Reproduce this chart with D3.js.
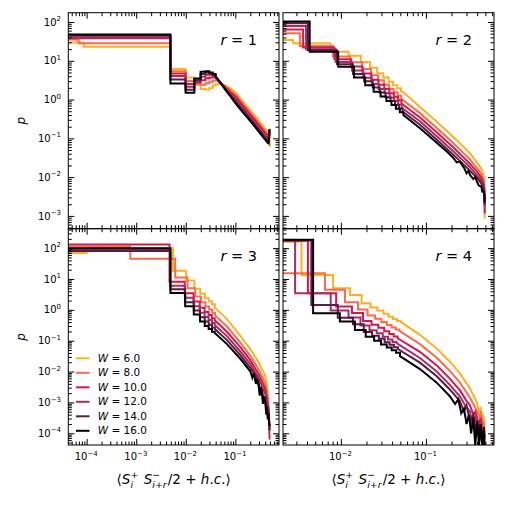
<!DOCTYPE html>
<html>
<head>
<meta charset="utf-8">
<script src="https://cdn.jsdelivr.net/npm/d3@7"></script>
<style>
body { margin: 0; background: #fff; }
svg { font-family: 'DejaVu Sans', sans-serif; }
svg text { white-space: pre; fill: #000; }
</style>
</head>
<body>
<svg id="chart" width="507" height="507"></svg>
<script>
var wValues = [6.0, 8.0, 10.0, 12.0, 14.0, 16.0];
var wColors = ['#ffb01f', '#fb6a4a', '#d7174c', '#a62f60', '#5c1b4a', '#000000'];
var rValues = [1, 2, 3, 4];

// each series: step part [bin edge, log10 p] then tail [x, log10 p]
var r1Steps = [
  [[1e-5,1.47],[8.7e-5,1.36],[0.0049,0.785],[0.0099,0.57],[0.0149,0.38],[0.0199,0.27],[0.0249,0.26],[0.0299,0.30],[0.0349,0.36]],
  [[1e-5,1.55],[6.9e-5,1.45],[0.0049,0.73],[0.0099,0.48],[0.0149,0.40],[0.0199,0.38],[0.0249,0.42],[0.0299,0.46],[0.0349,0.49]],
  [[1e-5,1.58],[0.0049,0.67],[0.0099,0.40],[0.0149,0.44],[0.0199,0.50],[0.0249,0.55],[0.0299,0.57],[0.0349,0.57]],
  [[1e-5,1.61],[0.0049,0.61],[0.0099,0.33],[0.0149,0.47],[0.0199,0.59],[0.0249,0.64],[0.0299,0.64],[0.0349,0.61]],
  [[1e-5,1.65],[0.0049,0.52],[0.0099,0.25],[0.0149,0.50],[0.0199,0.66],[0.0249,0.70],[0.0299,0.68],[0.0349,0.64]],
  [[1e-5,1.68],[0.0049,0.416],[0.0099,0.173],[0.0149,0.545],[0.0199,0.716],[0.0249,0.73],[0.0299,0.70],[0.0349,0.66]]
];
var r1Tails = [
  [[0.0399,0.40],[0.05,0.40],[0.0631,0.36],[0.0794,0.29],[0.1,0.19],[0.126,0.03],[0.178,-0.20],[0.251,-0.43],[0.316,-0.59],[0.398,-0.75],[0.437,-0.82],[0.468,-0.85],[0.484,-0.90],[0.495,-1.22]],
  [[0.0399,0.50],[0.05,0.44],[0.0631,0.34],[0.0794,0.24],[0.1,0.13],[0.126,-0.03],[0.178,-0.26],[0.251,-0.49],[0.316,-0.65],[0.398,-0.81],[0.437,-0.88],[0.468,-0.91],[0.484,-0.82],[0.495,-1.0]],
  [[0.0399,0.56],[0.05,0.44],[0.0631,0.31],[0.0794,0.19],[0.1,0.08],[0.126,-0.08],[0.178,-0.31],[0.251,-0.54],[0.316,-0.70],[0.398,-0.86],[0.437,-0.93],[0.468,-0.96],[0.484,-0.80],[0.495,-0.95]],
  [[0.0399,0.59],[0.05,0.44],[0.0631,0.29],[0.0794,0.15],[0.1,0.02],[0.126,-0.14],[0.178,-0.37],[0.251,-0.60],[0.316,-0.76],[0.398,-0.92],[0.437,-0.99],[0.468,-1.02],[0.484,-0.79],[0.495,-0.90]],
  [[0.0399,0.60],[0.05,0.43],[0.0631,0.27],[0.0794,0.11],[0.1,-0.04],[0.126,-0.20],[0.178,-0.43],[0.251,-0.66],[0.316,-0.82],[0.398,-0.98],[0.437,-1.05],[0.468,-1.08],[0.484,-0.78],[0.495,-0.85]],
  [[0.0399,0.60],[0.05,0.43],[0.0631,0.25],[0.0794,0.08],[0.1,-0.09],[0.126,-0.25],[0.178,-0.48],[0.251,-0.71],[0.316,-0.87],[0.398,-1.03],[0.437,-1.10],[0.468,-1.13],[0.484,-0.76],[0.495,-0.80]]
];

var r2Steps = [
  [[1e-5,1.535],[0.00275,1.45],[0.00755,1.23],[0.01235,1.13],[0.01715,0.97],[0.02195,0.82],[0.02675,0.68],[0.03155,0.57],[0.03635,0.46],[0.04115,0.37],[0.04595,0.29]],
  [[1e-5,1.71],[0.0033,1.38],[0.0081,1.11],[0.0129,0.96],[0.0177,0.79],[0.0225,0.63],[0.0273,0.50],[0.0321,0.39],[0.0369,0.28],[0.0417,0.19],[0.0465,0.10]],
  [[1e-5,1.81],[0.0036,1.34],[0.0084,1.04],[0.0132,0.85],[0.018,0.67],[0.0228,0.51],[0.0276,0.38],[0.0324,0.27],[0.0372,0.16],[0.042,0.07],[0.0468,-0.02]],
  [[1e-5,1.90],[0.0039,1.30],[0.0087,0.97],[0.0135,0.75],[0.0183,0.56],[0.0231,0.40],[0.0279,0.27],[0.0327,0.16],[0.0375,0.05],[0.0423,-0.04],[0.0471,-0.13]],
  [[1e-5,1.97],[0.0041,1.27],[0.0090,0.91],[0.0139,0.66],[0.0188,0.47],[0.0237,0.31],[0.0286,0.18],[0.0335,0.06],[0.0384,-0.04],[0.0433,-0.14],[0.0482,-0.23]],
  [[1e-5,2.01],[0.0043,1.23],[0.0093,0.845],[0.0143,0.57],[0.0193,0.37],[0.0243,0.20],[0.0293,0.08],[0.0343,-0.04],[0.0393,-0.14],[0.0443,-0.24],[0.0493,-0.33]]
];
var r2Tails = [
  [[0.05075,0.22],[0.0537,0.20],[0.0851,-0.19],[0.135,-0.58],[0.209,-0.96],[0.282,-1.24],[0.331,-1.39],[0.398,-1.62],[0.447,-1.78],[0.479,-1.98],[0.488,-2.3],[0.49,-3.07]],
  [[0.0513,0.02],[0.0851,-0.35],[0.135,-0.74],[0.209,-1.12],[0.282,-1.40],[0.331,-1.55],[0.398,-1.77],[0.447,-1.92],[0.479,-2.10],[0.488,-2.36],[0.49,-2.6]],
  [[0.0516,-0.10],[0.0851,-0.46],[0.135,-0.85],[0.209,-1.23],[0.282,-1.51],[0.331,-1.66],[0.398,-1.86],[0.447,-2.01],[0.479,-2.18],[0.488,-2.40],[0.49,-2.75]],
  [[0.0519,-0.21],[0.0851,-0.56],[0.135,-0.95],[0.209,-1.33],[0.282,-1.60],[0.331,-1.75],[0.398,-1.95],[0.447,-2.09],[0.479,-2.25],[0.488,-2.44],[0.491,-2.94]],
  [[0.0531,-0.31],[0.0851,-0.65],[0.135,-1.04],[0.209,-1.42],[0.282,-1.69],[0.331,-1.84],[0.398,-2.02],[0.447,-2.16],[0.479,-2.32],[0.488,-2.47],[0.49,-2.7]],
  [[0.0543,-0.40],[0.0851,-0.74],[0.135,-1.12],[0.18,-1.36],[0.209,-1.50],[0.23,-1.62],[0.25,-1.60],[0.282,-1.77],[0.30,-1.90],[0.315,-1.84],[0.331,-1.95],[0.36,-2.05],[0.38,-2.0],[0.398,-2.12],[0.42,-2.22],[0.447,-2.24],[0.46,-2.38],[0.479,-2.38],[0.488,-2.5],[0.49,-2.65]]
];

var r3Steps = [
  [[1e-5,1.84],[1.0e-4,2.0],[0.0055,1.27],[0.0102,0.95],[0.0149,0.68],[0.0196,0.52],[0.0243,0.38],[0.029,0.28],[0.0337,0.18]],
  [[1e-5,2.05],[7.6e-4,1.66],[0.0061,1.05],[0.0108,0.70],[0.0155,0.43],[0.0202,0.25],[0.0249,0.11],[0.0296,0.01],[0.0343,-0.09]],
  [[1e-5,2.12],[0.0047,0.91],[0.0095,0.54],[0.0143,0.27],[0.0191,0.07],[0.0239,-0.07],[0.0287,-0.17],[0.0335,-0.27]],
  [[1e-5,1.95],[0.0048,0.78],[0.0096,0.39],[0.0144,0.12],[0.0192,-0.09],[0.024,-0.23],[0.0288,-0.33],[0.0336,-0.43]],
  [[1e-5,1.91],[0.0049,0.67],[0.0097,0.25],[0.0145,-0.02],[0.0193,-0.24],[0.0241,-0.38],[0.0289,-0.48],[0.0337,-0.57]],
  [[1e-5,2.0],[0.0049,0.55],[0.0097,0.12],[0.0145,-0.15],[0.0193,-0.38],[0.0241,-0.52],[0.0289,-0.62],[0.0337,-0.71]]
];
var r3Tails = [
  [[0.0384,0.07],[0.0676,-0.30],[0.126,-0.84],[0.2,-1.27],[0.295,-1.70],[0.344,-1.92],[0.401,-2.14],[0.434,-2.46],[0.468,-3.11],[0.49,-3.74]],
  [[0.039,-0.18],[0.0676,-0.54],[0.126,-1.06],[0.2,-1.49],[0.295,-1.93],[0.344,-2.16],[0.401,-2.40],[0.434,-2.69],[0.468,-3.21],[0.49,-3.8]],
  [[0.0383,-0.34],[0.0676,-0.71],[0.126,-1.21],[0.2,-1.63],[0.295,-2.09],[0.344,-2.32],[0.401,-2.57],[0.434,-2.84],[0.468,-3.27],[0.49,-3.9]],
  [[0.0384,-0.49],[0.0676,-0.85],[0.126,-1.35],[0.2,-1.76],[0.295,-2.22],[0.344,-2.46],[0.401,-2.73],[0.434,-2.98],[0.468,-3.33],[0.49,-4.2]],
  [[0.0385,-0.62],[0.0676,-0.98],[0.126,-1.47],[0.2,-1.88],[0.26,-2.15],[0.295,-2.35],[0.31,-2.55],[0.344,-2.59],[0.37,-2.9],[0.401,-2.86],[0.42,-3.2],[0.434,-3.10],[0.468,-3.38],[0.49,-3.9]],
  [[0.0385,-0.75],[0.0676,-1.11],[0.126,-1.585],[0.2,-1.99],[0.22,-2.2],[0.235,-2.05],[0.26,-2.4],[0.275,-2.25],[0.295,-2.47],[0.31,-2.78],[0.325,-2.5],[0.344,-2.72],[0.36,-3.05],[0.375,-2.8],[0.401,-3.0],[0.42,-3.4],[0.434,-3.15],[0.45,-3.55],[0.468,-3.35],[0.48,-3.7],[0.50,-3.76]]
];

var r4Steps = [
  [[1e-5,2.21],[0.00345,1.13],[0.0081,0.70],[0.01277,0.48],[0.0175,0.21],[0.0222,0.08],[0.0269,-0.02],[0.0316,-0.13],[0.0363,-0.22],[0.041,-0.30],[0.0457,-0.36]],
  [[1e-5,1.19],[0.0065,0.65],[0.0112,0.25],[0.0159,0.01],[0.0206,-0.18],[0.0253,-0.29],[0.03,-0.39],[0.0347,-0.49],[0.0394,-0.57],[0.0441,-0.64]],
  [[1e-5,2.24],[0.0041,0.54],[0.0088,0.11],[0.0135,-0.10],[0.0182,-0.36],[0.0229,-0.48],[0.0276,-0.58],[0.0323,-0.69],[0.037,-0.78],[0.0417,-0.86]],
  [[1e-5,2.26],[0.0029,0.54],[0.0076,-0.02],[0.0123,-0.25],[0.017,-0.51],[0.0217,-0.66],[0.0264,-0.76],[0.0311,-0.87],[0.0358,-0.96],[0.0405,-1.04]],
  [[1e-5,2.25],[0.0045,0.16],[0.0092,-0.26],[0.0139,-0.47],[0.0186,-0.72],[0.0233,-0.84],[0.028,-0.94],[0.0327,-1.05],[0.0374,-1.13],[0.0421,-1.21]],
  [[1e-5,2.27],[0.00472,-0.11],[0.00973,-0.38],[0.01462,-0.65],[0.0196,-0.87],[0.0246,-1.0],[0.0296,-1.12],[0.0346,-1.22],[0.0396,-1.31],[0.0446,-1.39]]
];
var r4Tails = [
  [[0.0504,-0.39],[0.085,-0.81],[0.134,-1.25],[0.191,-1.68],[0.251,-2.06],[0.33,-2.55],[0.394,-2.98],[0.42,-3.3],[0.44,-3.15],[0.452,-3.52],[0.47,-3.4],[0.494,-3.96]],
  [[0.0488,-0.68],[0.085,-1.11],[0.134,-1.55],[0.191,-1.98],[0.251,-2.36],[0.33,-2.85],[0.394,-3.25],[0.43,-3.5],[0.445,-3.3],[0.46,-3.8],[0.475,-3.6],[0.49,-4.1]],
  [[0.0464,-0.92],[0.085,-1.36],[0.134,-1.80],[0.191,-2.23],[0.251,-2.61],[0.30,-2.95],[0.33,-3.1],[0.36,-3.4],[0.38,-3.3],[0.42,-3.7],[0.44,-3.5],[0.46,-3.9],[0.49,-4.2]],
  [[0.0452,-1.08],[0.085,-1.56],[0.134,-2.0],[0.191,-2.43],[0.251,-2.81],[0.29,-3.1],[0.33,-3.3],[0.35,-3.7],[0.38,-3.45],[0.41,-3.9],[0.44,-3.6],[0.47,-4.4],[0.49,-4.0]],
  [[0.0468,-1.27],[0.085,-1.71],[0.134,-2.15],[0.191,-2.58],[0.251,-2.96],[0.28,-3.3],[0.30,-3.1],[0.33,-3.6],[0.36,-3.4],[0.39,-4.0],[0.42,-3.7],[0.46,-4.4],[0.49,-4.1]],
  [[0.0496,-1.50],[0.085,-1.92],[0.134,-2.36],[0.191,-2.8],[0.22,-3.05],[0.24,-2.9],[0.26,-3.35],[0.28,-3.2],[0.30,-3.7],[0.32,-3.4],[0.34,-4.0],[0.36,-3.5],[0.38,-4.4],[0.40,-3.6],[0.42,-4.4],[0.44,-3.7],[0.46,-4.4],[0.48,-3.8],[0.49,-4.4]]
];

var cols = [
  {x0: 68.3, x1: 279, dom: [Math.pow(10, -4.37), Math.pow(10, -0.12)]},
  {x0: 283, x1: 494, dom: [Math.pow(10, -2.68), Math.pow(10, -0.20)]}
];
var rows = [
  {y0: 12.7, y1: 228.7, dom: [Math.pow(10, -3.33), Math.pow(10, 2.24)]},
  {y0: 228.7, y1: 445, dom: [Math.pow(10, -4.38), Math.pow(10, 2.63)]}
];
var panels = [
  {steps: r1Steps, tails: r1Tails, col: 0, row: 0},
  {steps: r2Steps, tails: r2Tails, col: 1, row: 0},
  {steps: r3Steps, tails: r3Tails, col: 0, row: 1},
  {steps: r4Steps, tails: r4Tails, col: 1, row: 1}
];

var svg = d3.select('#chart');
svg.append('rect').attr('width', 507).attr('height', 507).attr('fill', '#fff');

// lay out a small piece of math text, measuring each run
var mathText = function(parent, x, y, parts, size, anchor) {
  var grp = parent.append('g');
  var cx = 0;
  var addRuns = function(el, runs) {
    runs.forEach(function(r) {
      el.append('tspan').style('font-style', r.it ? 'italic' : 'normal').text(r.t);
    });
  };
  parts.forEach(function(p) {
    if (p.t !== undefined) {
      var el = grp.append('text').attr('x', cx).attr('y', 0)
        .style('font-size', size + 'px')
        .style('font-style', p.it ? 'italic' : 'normal')
        .text(p.t);
      cx += el.node().getComputedTextLength();
    } else {
      var w = 0;
      if (p.sup) {
        var s1 = grp.append('text').attr('x', cx).attr('y', -size * 0.45).style('font-size', (size * 0.7) + 'px');
        addRuns(s1, p.sup);
        w = Math.max(w, s1.node().getComputedTextLength());
      }
      if (p.sub) {
        var s2 = grp.append('text').attr('x', cx).attr('y', size * 0.3).style('font-size', (size * 0.7) + 'px');
        addRuns(s2, p.sub);
        w = Math.max(w, s2.node().getComputedTextLength());
      }
      cx += w + size * 0.08;
    }
  });
  var off = anchor === 'middle' ? -cx / 2 : (anchor === 'end' ? -cx : 0);
  grp.attr('transform', 'translate(' + (x + off) + ',' + y + ')');
  return grp;
};

var stepOutline = function(steps, tail) {
  var pts = [];
  steps.forEach(function(s, i) {
    if (i > 0) {
      pts.push([s[0], steps[i - 1][1]]);
    }
    pts.push([s[0], s[1]]);
  });
  pts.push([tail[0][0], steps[steps.length - 1][1]]);
  tail.forEach(function(t) {
    pts.push(t);
  });
  return pts;
};

var isMajor = function(t) {
  var l = Math.log10(t);
  return Math.abs(l - Math.round(l)) < 1e-6;
};
var expLabel = function(t) {
  var e = Math.round(Math.log10(t));
  return [{t: '10'}, {sup: [{t: String(e).replace('-', '\u2212')}]}];
};

panels.forEach(function(pn, k) {
  var c = cols[pn.col];
  var r = rows[pn.row];
  var x = d3.scaleLog().domain(c.dom).range([c.x0, c.x1]);
  var y = d3.scaleLog().domain(r.dom).range([r.y1, r.y0]);
  var g = svg.append('g');

  g.append('clipPath').attr('id', 'clip' + k)
    .append('rect').attr('x', c.x0).attr('y', r.y0)
    .attr('width', c.x1 - c.x0).attr('height', r.y1 - r.y0);

  var line = d3.line()
    .x(function(d) { return x(d[0]); })
    .y(function(d) { return y(Math.pow(10, d[1])); });

  var plot = g.append('g').attr('clip-path', 'url(#clip' + k + ')');
  pn.steps.forEach(function(s, i) {
    plot.append('path')
      .attr('d', line(stepOutline(s, pn.tails[i])))
      .attr('fill', 'none')
      .attr('stroke', wColors[i])
      .attr('stroke-width', 2)
      .attr('stroke-linejoin', 'miter');
  });

  var xt = x.ticks(10);
  var yt = y.ticks(10);
  var xMaj = xt.filter(isMajor), xMin = xt.filter(function(t) { return !isMajor(t); });
  var yMaj = yt.filter(isMajor), yMin = yt.filter(function(t) { return !isMajor(t); });

  var addAxis = function(axisFn, scale, vals, len, tr) {
    g.append('g').attr('transform', tr)
      .call(axisFn(scale).tickValues(vals).tickSize(-len).tickFormat(''))
      .call(function(a) { a.select('.domain').remove(); });
  };
  [[xMaj, 6], [xMin, 3.5]].forEach(function(v) {
    addAxis(d3.axisBottom, x, v[0], v[1], 'translate(0,' + r.y1 + ')');
    addAxis(d3.axisTop, x, v[0], v[1], 'translate(0,' + r.y0 + ')');
  });
  [[yMaj, 6], [yMin, 3.5]].forEach(function(v) {
    addAxis(d3.axisLeft, y, v[0], v[1], 'translate(' + c.x0 + ',0)');
    addAxis(d3.axisRight, y, v[0], v[1], 'translate(' + c.x1 + ',0)');
  });

  g.append('rect')
    .attr('x', c.x0).attr('y', r.y0)
    .attr('width', c.x1 - c.x0).attr('height', r.y1 - r.y0)
    .attr('fill', 'none').attr('stroke', '#000').attr('stroke-width', 1);

  if (pn.col === 0) {
    yMaj.forEach(function(t) {
      mathText(g, c.x0 - 6.5, y(t) + 3.6, expLabel(t), 10, 'end');
    });
    g.append('text')
      .attr('transform', 'translate(24.5,' + ((r.y0 + r.y1) / 2) + ') rotate(-90)')
      .style('font-size', '12px').style('font-style', 'italic')
      .attr('text-anchor', 'middle')
      .text('p');
  }
  if (pn.row === 1) {
    xMaj.forEach(function(t) {
      mathText(g, x(t), r.y1 + 15.3, expLabel(t), 10, 'middle');
    });
    mathText(g, (c.x0 + c.x1) / 2, 484, [
      {t: '\u27E8'}, {t: 'S', it: true},
      {sup: [{t: '+'}], sub: [{t: 'i', it: true}]},
      {t: ' '},
      {t: 'S', it: true},
      {sup: [{t: '\u2212'}], sub: [{t: 'i', it: true}, {t: '+'}, {t: 'r', it: true}]},
      {t: '/2 + '}, {t: 'h', it: true}, {t: '.'}, {t: 'c', it: true}, {t: '.'},
      {t: '\u27E9'}
    ], 13.5, 'middle');
  }

  mathText(g, c.x1 - 22, r.y0 + 32.3, [{t: 'r', it: true}, {t: ' = ' + rValues[k]}], 14.5, 'end');

  if (k === 2) {
    var legend = g.append('g');
    wValues.forEach(function(w, i) {
      var ly = 358.3 + i * 14.5;
      legend.append('line')
        .attr('x1', 76).attr('x2', 89.5).attr('y1', ly).attr('y2', ly)
        .attr('stroke', wColors[i]).attr('stroke-width', 2);
      mathText(legend, 97.7, ly + 3.6, [{t: 'W', it: true}, {t: ' = ' + w.toFixed(1)}], 10.5, 'start');
    });
  }
});
</script>
</body>
</html>
